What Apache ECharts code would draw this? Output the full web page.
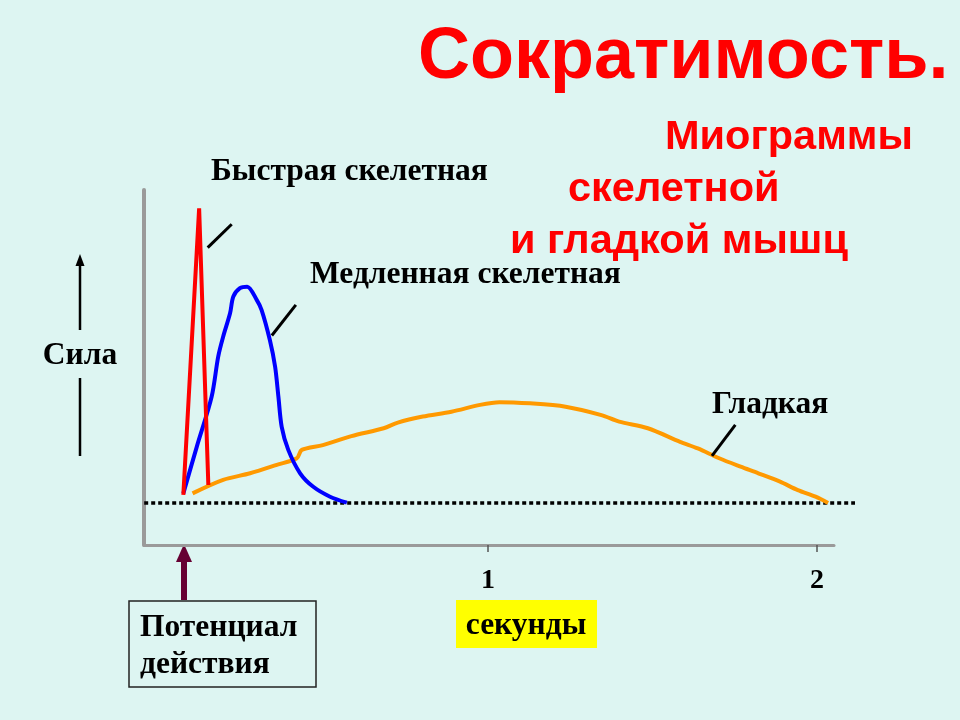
<!DOCTYPE html>
<html>
<head>
<meta charset="utf-8">
<script src="https://cdn.jsdelivr.net/npm/echarts@6/dist/echarts.min.js"></script>
<style>
html,body{margin:0;padding:0;background:#DDF5F2;}
#chart{width:960px;height:720px;}
</style>
</head>
<body>
<div id="chart"></div>
<script>
// Time in seconds, force in arbitrary units (0 = resting baseline)
const fastSkeletal = [[0.074,2.7],[0.122,98.2],[0.150,6]];
const slowSkeletal = [[0.074,3.2],[0.115,18.8],[0.160,35.4],[0.180,48.8],[0.195,55.4],[0.216,63.2],[0.226,68.8],[0.246,71.6],[0.268,72.1],[0.297,67.7],[0.312,64.3],[0.337,54.3],[0.353,45.4],[0.363,35.4],[0.373,25.4],[0.393,17.7],[0.429,9.9],[0.469,5.4],[0.520,2.1],[0.571,0.1]];
const smoothMuscle = [[0.102,3.2],[0.195,7.7],[0.277,9.9],[0.358,12.7],[0.419,14.9],[0.434,17.7],[0.498,19.3],[0.585,22.3],[0.683,24.9],[0.726,26.8],[0.802,28.8],[0.889,30.4],[0.976,32.7],[1.035,33.6],[1.128,33.2],[1.236,32.1],[1.345,29.3],[1.399,27.1],[1.486,24.9],[1.584,20.4],[1.638,18.2],[1.703,14.9],[1.768,12.1],[1.822,9.9],[1.888,7.1],[1.942,4.3],[1.996,2.1],[2.034,0]];
const baseline = [[-0.045,0],[2.116,0]];
const xTicks = [1, 2];
const pointerFast = [[0.148,85.1],[0.221,92.9]];
const pointerSlow = [[0.343,55.8],[0.416,66]];
const pointerSmooth = [[1.681,15.7],[1.752,26]];

const serif = '"Liberation Serif","Times New Roman",serif';
const sans = '"Liberation Sans",Arial,sans-serif';

const chart = echarts.init(document.getElementById('chart'));
function txt(x, y, text, size, color, font, align) {
  return {type:'text', x:x, y:y, style:{text:text, fontSize:size, fontWeight:'bold', fontFamily:font, fill:color, textAlign:align||'left', textVerticalAlign:'middle'}};
}
const hiddenAxis = {show:false, splitLine:{show:false}};
chart.setOption({
  backgroundColor:'#DDF5F2',
  animation:false,
  grid:[
    {left:144, right:126, top:190, bottom:175},
    {left:144, right:105, top:190, bottom:175}
  ],
  xAxis:[
    {type:'value', gridIndex:0, min:-0.0456, max:2.052,
      axisLine:{onZero:false, lineStyle:{color:'#9a9a9a', width:3}},
      axisTick:{customValues:xTicks, length:7, lineStyle:{color:'#555', width:1.5}},
      axisLabel:{customValues:xTicks, margin:22, color:'#000', fontSize:28, fontWeight:'bold', fontFamily:serif},
      splitLine:{show:false}},
    Object.assign({type:'value', gridIndex:1, min:-0.0456, max:2.116}, hiddenAxis)
  ],
  yAxis:[
    {type:'value', gridIndex:0, min:-14, max:104.3,
      axisLine:{show:true, onZero:false, lineStyle:{color:'#9a9a9a', width:4}},
      axisTick:{show:false}, axisLabel:{show:false}, splitLine:{show:false}},
    Object.assign({type:'value', gridIndex:1, min:-14, max:104.3}, hiddenAxis)
  ],
  series:[
    {type:'line', xAxisIndex:1, yAxisIndex:1, data:baseline, symbol:'none', lineStyle:{color:'#000', width:3.5, type:[4,3]}},
    {type:'line', data:smoothMuscle, symbol:'none', smooth:0.3, lineStyle:{color:'#FF9900', width:4}},
    {type:'line', data:slowSkeletal, symbol:'none', smooth:0.3, lineStyle:{color:'#0000FF', width:4}},
    {type:'line', data:fastSkeletal, symbol:'none', lineStyle:{color:'#FF0000', width:4}},
    {type:'line', data:pointerFast, symbol:'none', lineStyle:{color:'#000', width:3}},
    {type:'line', data:pointerSlow, symbol:'none', lineStyle:{color:'#000', width:3}},
    {type:'line', data:pointerSmooth, symbol:'none', lineStyle:{color:'#000', width:3}}
  ],
  graphic:[
    txt(418, 58, 'Сократимость.', 72, '#FF0000', sans),
    txt(665, 138, 'Миограммы', 41.5, '#FF0000', sans),
    txt(568, 190, 'скелетной', 41.5, '#FF0000', sans),
    txt(510, 242, 'и гладкой мышц', 41.5, '#FF0000', sans),
    txt(211, 172, 'Быстрая скелетная', 31.5, '#000', serif),
    txt(310, 275, 'Медленная скелетная', 31.5, '#000', serif),
    txt(712, 405, 'Гладкая', 31.5, '#000', serif),
    txt(80, 356, 'Сила', 31.5, '#000', serif, 'center'),
    {type:'line', shape:{x1:80, y1:330, x2:80, y2:262}, style:{stroke:'#000', lineWidth:2.5}},
    {type:'polygon', shape:{points:[[80,254],[75.5,266],[84.5,266]]}, style:{fill:'#000'}},
    {type:'line', shape:{x1:80, y1:378, x2:80, y2:456}, style:{stroke:'#000', lineWidth:2.5}},
    {type:'rect', shape:{x:181, y:560, width:6, height:40}, style:{fill:'#660033'}},
    {type:'polygon', shape:{points:[[184,544],[176,562],[192,562]]}, style:{fill:'#660033'}},
    {type:'rect', shape:{x:129, y:601, width:187, height:86}, style:{fill:'none', stroke:'#222', lineWidth:1.5}},
    txt(140, 628, 'Потенциал', 31.5, '#000', serif),
    txt(140, 665, 'действия', 31.5, '#000', serif),
    {type:'rect', shape:{x:456, y:600, width:141, height:48}, style:{fill:'#FFFF00'}},
    txt(526, 626, 'секунды', 31.5, '#000', serif, 'center')
  ]
});
</script>
</body>
</html>
